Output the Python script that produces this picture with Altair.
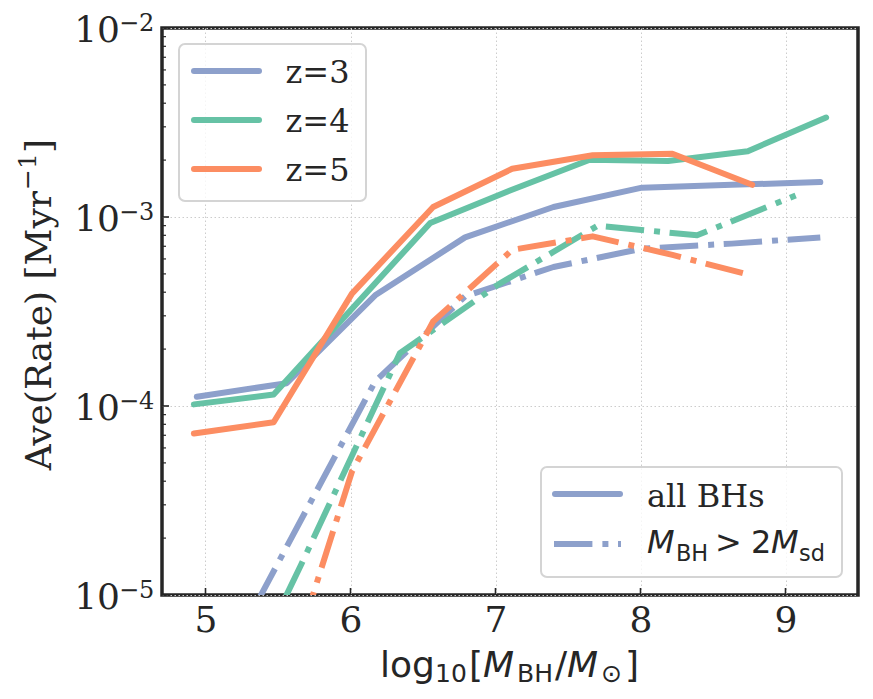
import altair as alt
import pandas as pd

# ---------------- data ----------------
x_z3 = [4.94, 5.56, 6.17, 6.79, 7.40, 8.01, 8.63, 9.24]
all_z3 = [1.12e-4, 1.32e-4, 3.85e-4, 7.8e-4, 1.13e-3, 1.43e-3, 1.48e-3, 1.53e-3]
sd_z3 = [2.3e-6, 1.8e-5, 1.35e-4, 3.8e-4, 5.44e-4, 6.8e-4, 7.23e-4, 7.8e-4]

x_z4_all = [4.92, 5.47, 6.01, 6.55, 7.10, 7.65, 8.19, 8.74, 9.28]
all_z4 = [1.02e-4, 1.15e-4, 3.27e-4, 9.3e-4, 1.38e-3, 2.01e-3, 1.98e-3, 2.23e-3, 3.36e-3]
x_z4_sd = [4.98, 5.66, 6.34, 7.02, 7.705, 8.39, 9.07]
sd_z4 = [1.2e-6, 1.45e-5, 1.9e-4, 4.4e-4, 9.0e-4, 8.0e-4, 1.3e-3]

x_z5 = [4.92, 5.47, 6.01, 6.57, 7.115, 7.67, 8.22, 8.77]
all_z5 = [7.15e-5, 8.2e-5, 3.93e-4, 1.13e-3, 1.80e-3, 2.12e-3, 2.16e-3, 1.48e-3]
sd_z5 = [4.0e-7, 2.2e-6, 4.5e-5, 2.8e-4, 6.7e-4, 7.9e-4, 6.3e-4, 4.9e-4]

redshifts = ["z=3", "z=4", "z=5"]
colors = ["#8da0cb", "#66c2a5", "#fc8d62"]
x_ticks = [5, 6, 7, 8, 9]
y_decades = [1e-5, 1e-4, 1e-3, 1e-2]
y_exponents = ["\u22125", "\u22124", "\u22123", "\u22122"]
y_minor = [k * 10.0 ** e for e in (-5, -4, -3) for k in range(2, 10)]

series = [
    ("z=3", "all", x_z3, all_z3),
    ("z=3", "sd", x_z3, sd_z3),
    ("z=4", "all", x_z4_all, all_z4),
    ("z=4", "sd", x_z4_sd, sd_z4),
    ("z=5", "all", x_z5, all_z5),
    ("z=5", "sd", x_z5, sd_z5),
]
rows = []
for z, kind, xs, ys in series:
    for xv, yv in zip(xs, ys):
        rows.append({"x": xv, "rate": yv, "z": z, "kind": kind})
df = pd.DataFrame(rows)

# ---------------- styling ----------------
W, H = 696, 567
INK = "#262626"
SERIF = "DejaVu Serif"
SANS = "DejaVu Sans"
DASHDOT = [38.4, 10, 6, 9.6]
LW = 6

XS = alt.Scale(domain=[4.7, 9.5], nice=False, zero=False)
YS = alt.Scale(type="log", domain=[1e-5, 1e-2], nice=False)
x_axis = alt.Axis(values=x_ticks, grid=True, gridColor="#cccccc", gridDash=[1.5, 2.5],
                  gridWidth=1, ticks=False, tickSize=0, domain=False, labelFont=SERIF,
                  labelFontSize=36, labelColor=INK, labelPadding=8, labelFlush=False,
                  title=None)
y_axis = alt.Axis(values=y_decades, grid=True, gridColor="#cccccc", gridDash=[1.5, 2.5],
                  gridWidth=1, ticks=False, tickSize=0, domain=False, labels=False,
                  title=None)
X = alt.X("x:Q", scale=XS, axis=x_axis)
Y = alt.Y("rate:Q", scale=YS, axis=y_axis)

layers = []
for z, col in zip(redshifts, colors):
    layers.append(
        alt.Chart(df).transform_filter((alt.datum.z == z) & (alt.datum.kind == "all"))
        .mark_line(color=col, strokeWidth=LW, strokeCap="round", strokeJoin="round", clip=True)
        .encode(x=X, y=Y)
    )
    layers.append(
        alt.Chart(df).transform_filter((alt.datum.z == z) & (alt.datum.kind == "sd"))
        .mark_line(color=col, strokeWidth=LW, strokeCap="butt", strokeJoin="round",
                   strokeDash=DASHDOT, clip=True)
        .encode(x=X, y=Y)
    )

# inward ticks
dec_df = pd.DataFrame({"rate": y_decades, "exp": y_exponents})
minor_df = pd.DataFrame({"rate": y_minor})
xt_df = pd.DataFrame({"x": x_ticks})
layers.append(alt.Chart(dec_df).mark_rule(color=INK, strokeWidth=1.6)
              .encode(y=Y, x=alt.value(0), x2=alt.value(7)))
layers.append(alt.Chart(minor_df).mark_rule(color=INK, strokeWidth=1.2)
              .encode(y=Y, x=alt.value(0), x2=alt.value(4)))
layers.append(alt.Chart(xt_df).mark_rule(color=INK, strokeWidth=1.6)
              .encode(x=X, y=alt.value(H - 7), y2=alt.value(H)))

# y tick labels 10^{-n}
layers.append(alt.Chart(dec_df).mark_text(text="10", font=SERIF, fontSize=36, color=INK,
                                           align="right", baseline="alphabetic", dy=14)
              .encode(y=Y, x=alt.value(-42)))
layers.append(alt.Chart(dec_df).mark_text(font=SERIF, fontSize=24, color=INK,
                                           align="left", baseline="alphabetic", dy=2.5)
              .encode(y=Y, x=alt.value(-43), text="exp:N"))

dummy = pd.DataFrame({"a": [0]})


def txt(s, x, y, size, font=SERIF, style="normal", angle=0, align="left"):
    kw = dict(text=s, font=font, fontSize=size, color=INK, align=align,
              baseline="alphabetic", fontStyle=style)
    if angle:
        kw["angle"] = angle
    return alt.Chart(dummy).mark_text(**kw).encode(x=alt.value(x), y=alt.value(y))


# x axis title: log10[M_BH/M_sun]
bx, by, sb = 677 - 28, 682 - 28, 25
for s, ax, sz, fnt, st, base in [
    ("log", 380, 36, SANS, "normal", bx),
    ("10", 435, sb, SANS, "normal", by),
    ("[", 469, 36, SANS, "normal", bx),
    ("M", 483, 36, SANS, "italic", bx),
    ("BH", 517, sb, SANS, "normal", by),
    ("/", 555, 36, SANS, "normal", bx),
    ("M", 567, 36, SANS, "italic", bx),
    ("\u2299", 601, sb, SANS, "normal", by),
    ("]", 625, 36, SANS, "normal", bx),
]:
    layers.append(txt(s, ax - 162, base, sz, fnt, st))

# y axis title (rotated); main part ends where the superscript starts
layers.append(txt("Ave(Rate) [Myr", 51 - 162, 163, 36, SERIF, angle=270, align="right"))
layers.append(txt("\u22121", 36 - 162, 162, 25, SERIF, angle=270))
layers.append(txt("]", 51 - 162, 125, 36, SERIF, angle=270))

# legend 1 (redshift)
layers.append(alt.Chart(dummy).mark_rect(cornerRadius=6, fill="white", fillOpacity=0.8,
                                         stroke="#d4d4d4", strokeWidth=2)
              .encode(x=alt.value(17), x2=alt.value(204), y=alt.value(16), y2=alt.value(173)))
for i, (z, col) in enumerate(zip(redshifts, colors)):
    yy = 43 + 49 * i
    layers.append(alt.Chart(dummy).mark_rule(color=col, strokeWidth=LW, strokeCap="round")
                  .encode(x=alt.value(32), x2=alt.value(97), y=alt.value(yy)))
    layers.append(txt(z, 123.5, 55.3 + 49 * i, 32, SERIF))

# legend 2 (selection)
layers.append(alt.Chart(dummy).mark_rect(cornerRadius=6, fill="white", fillOpacity=0.8,
                                         stroke="#d4d4d4", strokeWidth=2)
              .encode(x=alt.value(379), x2=alt.value(680), y=alt.value(439), y2=alt.value(549)))
layers.append(alt.Chart(dummy).mark_rule(color=colors[0], strokeWidth=LW, strokeCap="round")
              .encode(x=alt.value(393), x2=alt.value(458), y=alt.value(466)))
layers.append(alt.Chart(dummy).mark_rule(color=colors[0], strokeWidth=LW, strokeCap="butt",
                                         strokeDash=DASHDOT)
              .encode(x=alt.value(392), x2=alt.value(459), y=alt.value(516)))
layers.append(txt("all BHs", 485, 478.7, 32, SERIF))
mb, sbb, ss = 525.3, 532.7, 22.4
for s, ax, sz, st, base in [
    ("M", 485, 32, "italic", mb),
    ("BH", 514, ss, "normal", sbb),
    (">", 553, 32, "normal", mb),
    ("2", 589, 32, "normal", mb),
    ("M", 609, 32, "italic", mb),
    ("sd", 637, ss, "normal", sbb),
]:
    layers.append(txt(s, ax, base, sz, SANS, st))

chart = (
    alt.layer(*layers)
    .properties(width=W, height=H,
                padding={"left": 154, "top": 20, "right": 6, "bottom": 96},
                autosize=alt.AutoSizeParams(type="none"),
                background="white")
    .configure_view(stroke=INK, strokeWidth=3.5)
)

chart.save("out.html", embed_options={"renderer": "svg", "actions": False})
